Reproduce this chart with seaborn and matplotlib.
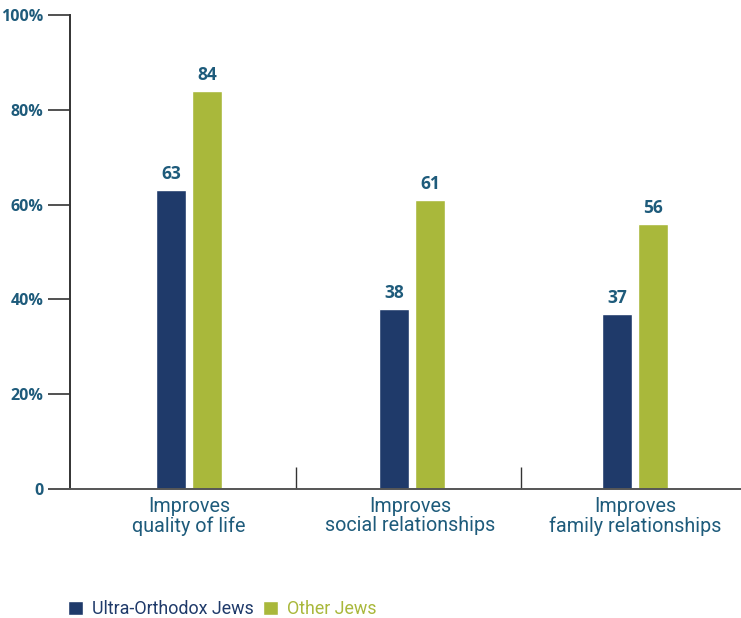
import matplotlib
matplotlib.use("Agg")
import matplotlib.pyplot as plt
from matplotlib.patches import Patch
import seaborn as sns
import pandas as pd

# Data
categories = ["Improves\nquality of life", "Improves\nsocial relationships", "Improves\nfamily relationships"]
groups = ["Ultra-Orthodox Jews", "Other Jews"]
ultra_orthodox = [63, 38, 37]
other_jews = [84, 61, 56]
y_ticks = [0, 20, 40, 60, 80, 100]
y_tick_labels = ["0", "20%", "40%", "60%", "80%", "100%"]

NAVY = "#1f3a6a"
GREEN = "#a9b83b"
TEXT = "#1e5b7b"

sns.set_theme(style="white")
plt.rcParams["font.family"] = ["Open Sans", "DejaVu Sans"]

df = pd.DataFrame({
    "category": categories * 2,
    "group": [groups[0]] * 3 + [groups[1]] * 3,
    "value": ultra_orthodox + other_jews,
})

fig = plt.figure(figsize=(7.41, 6.18), dpi=100)
ax = fig.add_axes([70 / 741, 1 - 489 / 618, (741 - 70) / 741, (489 - 15) / 618])

sns.barplot(data=df, x="category", y="value", hue="group", order=categories,
            hue_order=groups, palette=[NAVY, GREEN], width=0.32, gap=0.16,
            saturation=1, legend=False, ax=ax)

for cont in ax.containers:
    ax.bar_label(cont, labels=[f"{v:.0f}" for v in cont.datavalues], padding=5,
                 color=TEXT, fontsize=12.5, fontweight="bold")

ax.set_xlim(-0.534, 2.475)
ax.set_ylim(0, 100)
ax.set_xlabel("")
ax.set_ylabel("")
ax.set_yticks(y_ticks)
ax.set_yticklabels(y_tick_labels, color=TEXT, fontsize=11.5, fontweight="bold")
ax.tick_params(axis="y", direction="out", length=16, width=1.2, color="#333333", left=True, pad=3)
ax.set_xticks([0, 0.99, 2])
ax.set_xticklabels(categories, color=TEXT, fontsize=14.2, linespacing=1.0,
                   family=["Roboto", "DejaVu Sans"])
ax.tick_params(axis="x", length=0, pad=6)
ax.set_xticks([0.48, 1.49], minor=True)
ax.tick_params(axis="x", which="minor", direction="in", length=16, width=1, color="#333333", bottom=True)

for s in ["top", "right"]:
    ax.spines[s].set_visible(False)
ax.spines["left"].set_color("#333333")
ax.spines["left"].set_linewidth(1.4)
ax.spines["bottom"].set_color("#555555")
ax.spines["bottom"].set_linewidth(1.4)
ax.grid(False)

handles = [Patch(facecolor=NAVY, label=groups[0]), Patch(facecolor=GREEN, label=groups[1])]
fig.legend(handles=handles, loc="center left", bbox_to_anchor=(52 / 741, 1 - 609 / 618),
           ncol=2, frameon=False, handlelength=0.85, handleheight=0.85,
           handletextpad=0.5, columnspacing=0.5, labelcolor=[NAVY, GREEN],
           prop={"family": ["Roboto", "DejaVu Sans"], "size": 12.9})

fig.savefig("out.png", dpi=100)
